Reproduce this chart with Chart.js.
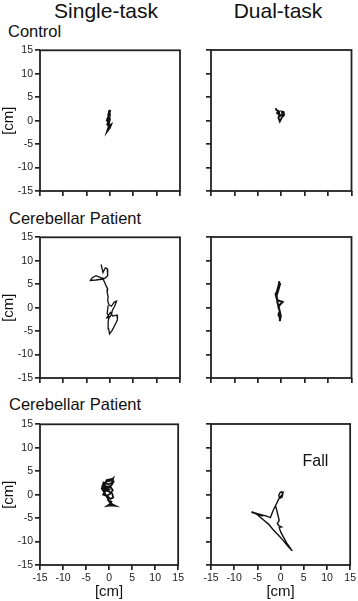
<!DOCTYPE html>
<html>
<head>
<meta charset="utf-8">
<script src="https://cdn.jsdelivr.net/npm/chart.js"></script>
<style>
  body { margin: 0; background: #fff; }
  #page { position: relative; width: 358px; height: 601px; overflow: hidden; font-family: "Liberation Sans", Arial, sans-serif; color: #111; }
  .txt { position: absolute; white-space: nowrap; line-height: 1; }
  .box { position: absolute; }
</style>
</head>
<body>
<div id="page">
  <div class="txt" id="colA" style="left:0;width:212px;text-align:center;top:0;font-size:21px"></div>
  <div class="txt" id="colB" style="left:180px;width:196px;text-align:center;top:0;font-size:21px"></div>
  <div class="txt" id="row0" style="left:8px;top:23px;font-size:16.5px"></div>
  <div class="txt" id="row1" style="left:9px;top:210px;font-size:16.5px"></div>
  <div class="txt" id="row2" style="left:9px;top:396px;font-size:16.5px"></div>

  <div class="box" style="left:0;top:42px;width:186px;height:158px"><canvas id="c0"></canvas></div>
  <div class="box" style="left:186px;top:42px;width:172px;height:158px"><canvas id="c1"></canvas></div>
  <div class="box" style="left:0;top:229px;width:186px;height:158px"><canvas id="c2"></canvas></div>
  <div class="box" style="left:186px;top:229px;width:172px;height:158px"><canvas id="c3"></canvas></div>
  <div class="box" style="left:0;top:416px;width:186px;height:185px"><canvas id="c4"></canvas></div>
  <div class="box" style="left:186px;top:416px;width:172px;height:185px"><canvas id="c5"></canvas></div>
</div>
<script>
// sway paths, [x cm, y cm]
const columnTitles = ['Single-task', 'Dual-task'];
const rowTitles = ['Control', 'Cerebellar Patient', 'Cerebellar Patient'];
const axisUnit = '[cm]';
const axisMin = -15, axisMax = 15, axisStep = 5;
const fallText = 'Fall';

const controlSingle = [[0, 2.3], [-0.2, 1.6], [-0.1, 1.0], [-0.4, 0.6], [-0.6, 0.1], [-0.3, -0.3], [-0.5, -0.8],
  [-0.2, -1.2], [0.1, -1.0], [-0.1, -1.5], [-0.4, -1.9], [-0.2, -1.3], [-0.3, -0.5], [-0.1, 0.3], [-0.3, 1.2], [-0.1, 2.0]];
const controlDual = [[-1.2, 2.6], [-1.0, 2.2], [-0.6, 2.0], [-0.9, 1.6], [-0.4, 1.2], [-0.6, 0.6], [-0.3, -0.2],
  [0.1, 0.6], [0.6, 1.2], [0.5, 1.8], [0.1, 1.9], [0.3, 1.4], [-0.2, 1.0], [-0.5, 1.6], [-0.4, 2.0]];
const patient1Single = [[-1.9, 9.2], [-1.5, 7.5], [-1.0, 8.5], [-0.6, 8.3], [-0.5, 6.8], [-1.1, 6.2], [-2.0, 6.4],
  [-3.0, 6.8], [-3.8, 6.4], [-4.2, 5.8], [-3.0, 5.9], [-1.5, 6.1], [-1.2, 5.5], [-0.9, 4.8], [-0.5, 4.0],
  [-0.6, 3.2], [-0.4, 2.3], [-0.5, 1.5], [-0.2, 0.6], [0.3, 0.3], [0.9, 1.2], [1.4, 1.4], [1.0, 0.3],
  [0.5, -0.6], [0.3, -1.5], [-0.2, -2.2], [-0.7, -2.2], [0.1, -1.0], [0.6, -1.8], [1.5, -1.6], [1.6, -2.6],
  [1.1, -3.6], [0.5, -4.8], [-0.1, -5.6], [-0.3, -4.5], [-0.4, -3.0], [-0.2, -2.0], [-0.6, -1.2], [-0.4, 0.5]];
const patient1Dual = [[-0.4, 5.6], [-0.6, 4.5], [-0.9, 3.5], [-1.2, 2.8], [-1.0, 2.0], [-0.7, 1.5], [0.3, 1.2],
  [-0.3, 0.6], [-0.6, 0], [-0.3, -0.8], [-0.6, -1.5], [-0.3, -2.2], [-0.3, -2.9], [-0.1, -1.8], [-0.4, -0.5],
  [-0.8, 1.0], [-1.0, 2.5], [-0.6, 3.8], [-0.2, 5.2]];
const patient2Single = [[0.2, 0.5], [-0.8, 1.2], [-1.4, 2.0], [-0.6, 2.8], [0.3, 3.0], [0.9, 3.5], [0.6, 2.5],
  [-0.2, 2.2], [-1.2, 2.6], [-1.5, 1.6], [-0.9, 0.6], [-1.3, 0.0], [-0.5, -0.3], [0.4, 0.3], [0.8, 1.0],
  [0.2, 1.8], [-0.7, 1.6], [-1.0, 0.9], [-0.2, 0.8], [0.7, 0.2], [0.9, -0.6], [0.3, -0.9], [-0.3, -0.4],
  [-0.2, -1.2], [0.5, -1.5], [0.2, -2.0], [-0.4, -2.4], [0.4, -2.3], [1.4, -2.4], [0.8, -2.1], [0.1, -1.6],
  [-0.3, -0.8], [-1.0, 0.4], [-1.6, 1.3], [-1.1, 2.2], [-0.3, 1.4], [0.5, 2.0], [1.0, 2.8], [0.4, 3.3],
  [-0.5, 3.1], [-1.0, 2.0], [-0.4, 1.0], [0.3, 1.2]];
const patient2Dual = [[0.5, 0.2], [0.3, 0.6], [-0.1, 0.4], [-0.4, -0.2], [-0.2, -0.8], [0.3, -0.6], [0.5, 0.2],
  [-0.4, -1.0], [-1.1, -2.4], [-1.6, -3.4], [-2.2, -4.9], [-3.0, -4.6], [-4.2, -4.3], [-5.4, -4.0], [-6.3, -3.8],
  [-5.2, -4.1], [-3.8, -4.6], [-5.0, -4.1], [-6.2, -3.7], [-5.0, -4.3], [-3.8, -5.3], [-2.6, -6.3], [-1.6, -7.5],
  [-0.5, -8.6], [0.5, -9.7], [1.5, -10.9], [2.5, -12.0], [2.1, -11.4], [1.3, -10.3], [0.6, -9.0], [0.0, -7.9],
  [-0.3, -7.0], [0.2, -6.9], [-0.4, -6.6], [-0.7, -6.2], [-0.3, -5.5], [-0.6, -4.3], [-0.9, -3.0], [-1.1, -2.4]];

document.getElementById('colA').textContent = columnTitles[0];
document.getElementById('colB').textContent = columnTitles[1];
rowTitles.forEach((t, i) => { document.getElementById('row' + i).textContent = t; });

const FONT = '"Liberation Sans", Arial, sans-serif';
const INK = '#222';

const frame = {
  id: 'frame',
  afterDraw(chart) {
    const { ctx, chartArea: a } = chart;
    ctx.save();
    ctx.strokeStyle = INK;
    ctx.lineWidth = 1.8;
    ctx.strokeRect(a.left, a.top, a.right - a.left, a.bottom - a.top);
    const note = chart.options.plugins.note;
    if (note && note.text) {
      ctx.fillStyle = '#111';
      ctx.font = '16px ' + FONT;
      ctx.textAlign = 'center';
      ctx.textBaseline = 'middle';
      ctx.fillText(note.text, chart.scales.x.getPixelForValue(note.x), chart.scales.y.getPixelForValue(note.y));
    }
    ctx.restore();
  }
};

function makePanel(id, path, opts) {
  const left = opts.left;
  const bottom = opts.bottom;
  return new Chart(document.getElementById(id), {
    type: 'scatter',
    data: {
      datasets: [{
        data: path.map(p => ({ x: p[0], y: p[1] })),
        showLine: true,
        borderColor: '#111',
        borderWidth: opts.lw,
        pointRadius: 0,
        tension: 0
      }]
    },
    options: {
      responsive: true,
      maintainAspectRatio: false,
      animation: false,
      events: [],
      layout: { padding: { top: 8, right: left ? 6 : 6.5, left: 0, bottom: 0 } },
      scales: {
        x: {
          type: 'linear', min: axisMin, max: axisMax,
          grid: { drawOnChartArea: false, drawTicks: true, tickLength: 5, color: INK, lineWidth: 1.7 },
          border: { display: false },
          ticks: { display: bottom, stepSize: axisStep, color: '#222', padding: 2, maxRotation: 0,
                   font: { family: FONT, size: 10.5 } },
          title: { display: bottom, text: axisUnit, color: '#111', padding: 0, font: { family: FONT, size: 15 } },
          afterFit: s => { s.height = bottom ? 36 : 9; }
        },
        y: {
          type: 'linear', min: axisMin, max: axisMax,
          grid: { drawOnChartArea: false, drawTicks: true, tickLength: 5, color: INK, lineWidth: 1.7 },
          border: { display: false },
          ticks: { display: left, stepSize: axisStep, color: '#222', padding: 2,
                   font: { family: FONT, size: 10.5 } },
          title: { display: left, text: axisUnit, color: '#111', padding: 0, font: { family: FONT, size: 15 } },
          afterFit: s => { s.width = left ? 40 : 25; }
        }
      },
      plugins: {
        legend: { display: false },
        tooltip: { enabled: false },
        note: opts.note || {}
      }
    },
    plugins: [frame]
  });
}

makePanel('c0', controlSingle, { left: true, bottom: false, lw: 2.6 });
makePanel('c1', controlDual, { left: false, bottom: false, lw: 1.9 });
makePanel('c2', patient1Single, { left: true, bottom: false, lw: 1.3 });
makePanel('c3', patient1Dual, { left: false, bottom: false, lw: 2.0 });
makePanel('c4', patient2Single, { left: true, bottom: true, lw: 1.8 });
makePanel('c5', patient2Dual, { left: false, bottom: true, lw: 1.4, note: { text: fallText, x: 7.5, y: 7 } });
</script>
</body>
</html>
